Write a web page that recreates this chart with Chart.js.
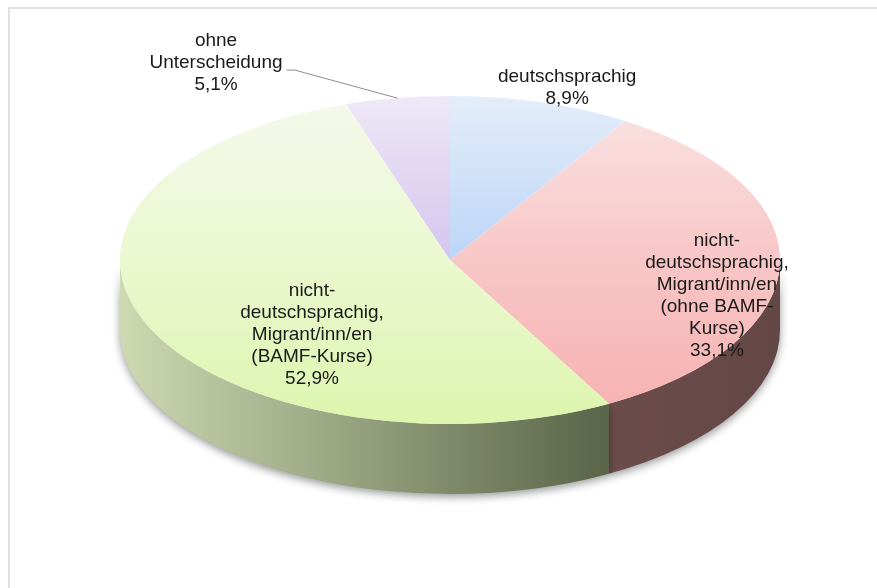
<!DOCTYPE html>
<html>
<head>
<meta charset="utf-8">
<script src="https://cdn.jsdelivr.net/npm/chart.js@4/dist/chart.umd.min.js"></script>
<style>
  html, body { margin: 0; padding: 0; background: #fff; }
  .frame { position: absolute; left: 8px; top: 7px; right: 0; bottom: 0;
           border-top: 2px solid #e0e0e0; border-left: 2px solid #e0e0e0; }
  canvas { position: absolute; left: 0; top: 0; }
</style>
</head>
<body>
<div class="frame"></div>
<canvas id="chart" width="877" height="588"></canvas>
<script>
// categories (line-wrapped as in the original) and shares in percent
const categories = [
  ['deutschsprachig'],
  ['nicht-', 'deutschsprachig,', 'Migrant/inn/en', '(ohne BAMF-', 'Kurse)'],
  ['nicht-', 'deutschsprachig,', 'Migrant/inn/en', '(BAMF-Kurse)'],
  ['ohne', 'Unterscheidung']
];
const shares = [8.9, 33.1, 52.9, 5.1];

// top face gradients (top -> bottom) and side gradients (left -> right)
const topColors = [
  ['#e4edfa', '#bcd5f7', '#a8c7f4'],
  ['#fae4e4', '#f8c6c6', '#f7b0b0'],
  ['#f4f9ec', '#ebf8d0', '#ddf5ae'],
  ['#eee8f6', '#d4c5ee', '#c8b6ec']
];
const sideColors = [
  ['#9ab', '#9ab'],
  ['#6c4d4c', '#634646'],
  ['#cdd9b1', '#5a6448'],
  ['#b0a', '#b0a']
];

// ellipse of the tilted pie on the page
const CX = 450, CY = 260, RX = 330, RY = 164, DEPTH = 70;
// label anchors, relative to the ellipse radii
const labelAnchors = [[0.355, -1.05], [0.809, 0.22], [-0.418, 0.457], [-0.709, -1.201]];
const LINE_H = 22;

const fmt = v => v.toFixed(1).replace('.', ',') + '%';

const pie3d = {
  id: 'pie3d',
  beforeDatasetsDraw(chart) {
    const ctx = chart.ctx;
    const meta = chart.getDatasetMeta(0);
    // sides (only the front half is visible)
    meta.data.forEach((arc, i) => {
      const lo = Math.max(arc.startAngle, 0);
      const hi = Math.min(arc.endAngle, Math.PI);
      if (hi <= lo) return;
      ctx.save();
      ctx.beginPath();
      ctx.ellipse(CX, CY, RX, RY, 0, lo, hi);
      ctx.lineTo(CX + RX * Math.cos(hi), CY + RY * Math.sin(hi) + DEPTH);
      ctx.ellipse(CX, CY + DEPTH, RX, RY, 0, hi, lo, true);
      ctx.closePath();
      const x1 = CX + RX * Math.cos(hi), x2 = CX + RX * Math.cos(lo);
      const g = ctx.createLinearGradient(Math.min(x1, x2), 0, Math.max(x1, x2), 0);
      g.addColorStop(0, sideColors[i][0]);
      g.addColorStop(1, sideColors[i][1]);
      ctx.fillStyle = g;
      ctx.shadowColor = 'rgba(0,0,0,0.4)';
      ctx.shadowBlur = 8;
      ctx.shadowOffsetX = 0;
      ctx.shadowOffsetY = 3;
      ctx.fill();
      ctx.restore();
    });
    // squash the library's pie into the ellipse
    const { x, y, outerRadius } = meta.data[0];
    const s = RX / outerRadius;
    ctx.save();
    ctx.translate(CX, CY);
    ctx.scale(s, s * RY / RX);
    ctx.translate(-x, -y);
  },
  afterDatasetsDraw(chart) {
    const ctx = chart.ctx;
    ctx.restore();
    const meta = chart.getDatasetMeta(0);
    ctx.save();
    ctx.font = '19px "Liberation Sans", Arial, sans-serif';
    ctx.fillStyle = '#1a1a1a';
    ctx.textAlign = 'center';
    ctx.textBaseline = 'middle';
    meta.data.forEach((arc, i) => {
      const lines = categories[i].concat([fmt(shares[i])]);
      const ax = CX + labelAnchors[i][0] * RX;
      const ay = CY + labelAnchors[i][1] * RY;
      const y0 = ay - (lines.length - 1) * LINE_H / 2;
      lines.forEach((t, k) => ctx.fillText(t, ax, y0 + k * LINE_H));
      // leader line for labels sitting outside the pie
      if (labelAnchors[i][1] < -1.1) {
        const mid = (arc.startAngle + arc.endAngle) / 2;
        const w = Math.max(...lines.map(t => ctx.measureText(t).width));
        const ly = ay + 7;
        const lx = ax + w / 2 + 4;
        ctx.strokeStyle = '#8c8c8c';
        ctx.lineWidth = 1;
        ctx.beginPath();
        ctx.moveTo(lx, ly);
        ctx.lineTo(lx + 8, ly);
        ctx.lineTo(CX + RX * Math.cos(mid), CY + RY * Math.sin(mid));
        ctx.stroke();
      }
    });
    ctx.restore();
  }
};

new Chart(document.getElementById('chart'), {
  type: 'pie',
  data: {
    labels: categories,
    datasets: [{
      data: shares,
      borderWidth: 0,
      backgroundColor: (c) => {
        const area = c.chart.chartArea;
        const stops = topColors[c.dataIndex];
        if (!area) return stops[1];
        const g = c.chart.ctx.createLinearGradient(0, area.top, 0, area.bottom);
        g.addColorStop(0, stops[0]);
        g.addColorStop(0.5, stops[1]);
        g.addColorStop(1, stops[2]);
        return g;
      }
    }]
  },
  options: {
    responsive: false,
    devicePixelRatio: 1,
    animation: false,
    events: [],
    plugins: { legend: { display: false }, tooltip: { enabled: false } }
  },
  plugins: [pie3d]
});
</script>
</body>
</html>
